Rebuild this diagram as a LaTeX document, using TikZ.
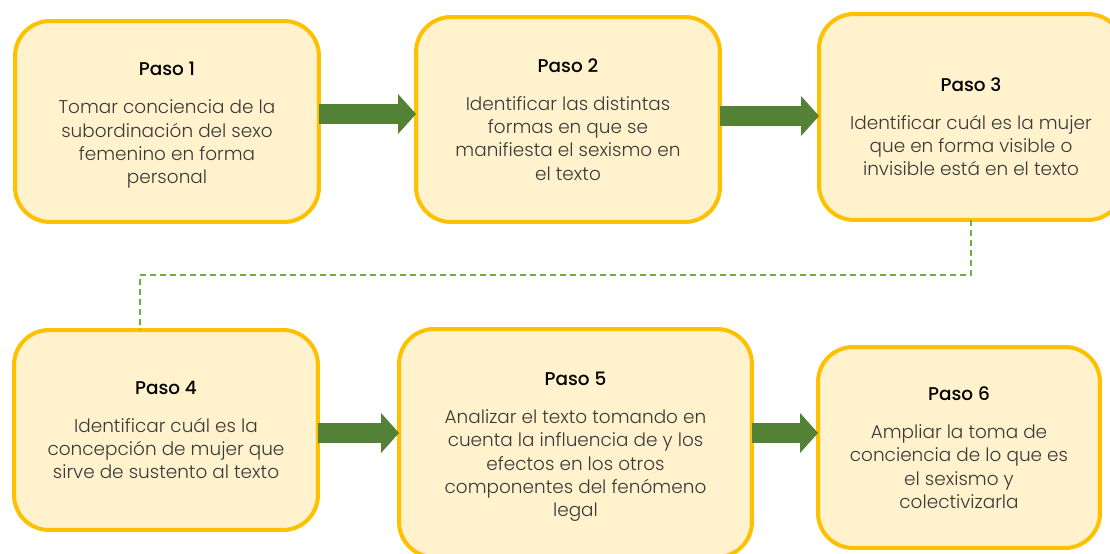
\documentclass[tikz,border=0pt]{standalone}
\usepackage{fontspec}
\setmainfont{Poppins Light}
\newfontfamily\titlefont{Poppins Medium}
\usetikzlibrary{positioning,arrows.meta}

\definecolor{boxline}{HTML}{FFC000}
\definecolor{boxfill}{HTML}{FFF2CC}
\definecolor{arrowgreen}{HTML}{538135}
\definecolor{dashgreen}{HTML}{70AD47}
\definecolor{bodygray}{HTML}{3A3A3A}

\begin{document}
\begin{tikzpicture}[
        x=0.02cm, y=-0.02cm,
        every node/.style = {outer sep=0pt,inner sep=0pt},
        pasobox/.style = {draw=boxline,fill=boxfill,line width=0.08cm,rounded corners=0.7cm,
                          align=center,text=bodygray,font=\fontsize{10.5}{13.2}\selectfont},
        blockarrow/.style = {draw=arrowgreen,line width=0.42cm,
                          -{Triangle[length=0.36cm,width=0.78cm]}},
        dashline/.style = {color=dashgreen,line width=0.03cm,dash pattern=on 0.12cm off 0.08cm},
        ]
        \clip (0,0) rectangle (1110,554);
        \node[pasobox,minimum width=6.08cm,minimum height=4.02cm] (paso-1) at (167,121.5)
            {\rule{0pt}{0.42cm}{\titlefont\color{black}Paso 1}\\[0.3cm]
             Tomar conciencia de la\\ subordinación del sexo\\ femenino en forma\\ personal};
        \node[pasobox,minimum width=6.08cm,minimum height=4.1cm] (paso-2) at (568,119.5)
            {{\titlefont\color{black}Paso 2}\\[0.3cm]
             Identificar las distintas\\ formas en que se\\ manifiesta el sexismo en\\ el texto};
        \node[pasobox,minimum width=6.08cm,minimum height=4.12cm] (paso-3) at (971,117)
            {\rule{0pt}{0.66cm}{\titlefont\color{black}Paso 3}\\[0.3cm]
             Identificar cuál es la mujer\\ que en forma visible o\\ invisible está en el texto};
        \node[pasobox,minimum width=6.08cm,minimum height=4.0cm] (paso-4) at (166,430)
            {{\titlefont\color{black}Paso 4}\\[0.3cm]
             Identificar cuál es la\\ concepción de mujer que\\ sirve de sustento al texto};
        \node[pasobox,minimum width=7.06cm,minimum height=4.56cm] (paso-5) at (575.5,443)
            {\rule{0pt}{0.42cm}{\titlefont\color{black}Paso 5}\\[0.3cm]
             Analizar el texto tomando en\\ cuenta la influencia de y los\\ efectos en los otros\\ componentes del fenómeno\\ legal};
        \node[pasobox,minimum width=5.64cm,minimum height=4.02cm] (paso-6) at (959,447.5)
            {{\titlefont\color{black}Paso 6}\\[0.3cm]
             Ampliar la toma de\\ conciencia de lo que es\\ el sexismo y\\ colectivizarla};
        \draw[blockarrow] (paso-1.east |- 0,114) -- (paso-2.west |- 0,114);
        \draw[blockarrow] (paso-2.east |- 0,116) -- (paso-3.west |- 0,116);
        \draw[blockarrow] (paso-4.east |- 0,433) -- (paso-5.west |- 0,433);
        \draw[blockarrow] (paso-5.east |- 0,433) -- (paso-6.west |- 0,433);
        \coordinate (turn) at (140,275);
        \draw[dashline] (paso-3.south) |- (turn) -- (turn |- paso-4.north);
    \end{tikzpicture}
\end{document}
